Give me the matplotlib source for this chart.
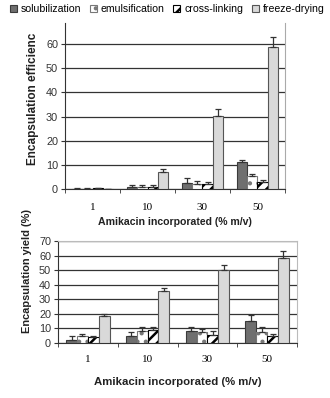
import matplotlib
matplotlib.use("Agg")
import matplotlib.pyplot as plt
import numpy as np
from matplotlib.patches import Patch

plt.rcParams['font.family'] = ['Liberation Sans', 'DejaVu Sans']
plt.rcParams['hatch.linewidth'] = 1.8

categories = ["1", "10", "30", "50"]
series = ["solubilization", "emulsification", "cross-linking", "freeze-drying"]

# Encapsulation efficiency (%)
eff = {
    "solubilization": [0.2, 0.8, 2.5, 11.2],
    "emulsification": [0.2, 1.0, 2.1, 5.5],
    "cross-linking":  [0.4, 0.9, 2.0, 3.0],
    "freeze-drying":  [0.1, 7.0, 30.1, 58.8],
}
eff_err = {
    "solubilization": [0.1, 1.0, 1.9, 0.8],
    "emulsification": [0.1, 0.8, 1.1, 0.8],
    "cross-linking":  [0.1, 0.7, 0.8, 0.9],
    "freeze-drying":  [0.1, 1.3, 3.0, 4.1],
}
# Encapsulation yield (%)
yld = {
    "solubilization": [2.3, 4.8, 8.4, 15.0],
    "emulsification": [4.5, 8.4, 7.5, 7.3],
    "cross-linking":  [3.8, 8.6, 5.5, 4.5],
    "freeze-drying":  [18.4, 35.9, 49.8, 58.6],
}
yld_err = {
    "solubilization": [2.2, 2.7, 2.3, 3.9],
    "emulsification": [1.4, 2.5, 2.3, 3.4],
    "cross-linking":  [0.7, 2.3, 2.7, 1.4],
    "freeze-drying":  [1.8, 1.6, 3.4, 4.6],
}

styles = {
    "solubilization": dict(facecolor="#6f6f6f", edgecolor="#3a3a3a", hatch=None),
    "emulsification": dict(facecolor="white", edgecolor="#777777", hatch=".."),
    "cross-linking":  dict(facecolor="white", edgecolor="black", hatch="///"),
    "freeze-drying":  dict(facecolor="#d9d9d9", edgecolor="#555555", hatch=None),
}

fig = plt.figure(figsize=(3.30, 3.98), dpi=100)

W = 0.182
x = np.arange(len(categories))
offs = (np.arange(4) - 1.5) * W


def draw(ax, data, err, ymax, yticks):
    for i, s in enumerate(series):
        st = styles[s]
        ax.bar(x + offs[i], data[s], W, facecolor=st["facecolor"],
               edgecolor=st["edgecolor"], hatch=st["hatch"], linewidth=0.8, zorder=3)
        ax.errorbar(x + offs[i], data[s], yerr=[np.zeros(4), err[s]], fmt='none',
                    ecolor="#333333", elinewidth=0.9, capsize=2.5, capthick=0.9, zorder=4)
    ax.set_xlim(-0.5, 3.5)
    ax.set_ylim(0, ymax)
    ax.set_yticks(yticks)
    ax.yaxis.grid(True, color="#333333", linewidth=0.9, zorder=0)
    ax.set_axisbelow(True)
    ax.set_xticks(x)
    ax.set_xticklabels(categories, fontfamily='Liberation Serif', fontsize=8)
    ax.set_xticks(np.arange(-0.5, 4.0, 1.0), minor=True)
    ax.tick_params(axis='x', which='major', length=0)
    ax.tick_params(axis='x', which='minor', length=3, direction='out', color='#333333')
    ax.tick_params(axis='y', length=3, direction='out', labelsize=7.8, color='#333333',
                   labelcolor='#333333', pad=2)
    ax.spines['left'].set_color('#333333')
    ax.spines['bottom'].set_color('#333333')


# Top panel
ax1 = fig.add_axes([65/330, 1-189/398, 220/330, 166/398])
draw(ax1, eff, eff_err, 68.7, [0, 10, 20, 30, 40, 50, 60])
ax1.spines['top'].set_visible(False)
ax1.spines['right'].set_color('#aaaaaa')
ax1.tick_params(axis='x', which='major', pad=10)

# Bottom panel
ax2 = fig.add_axes([58/330, 1-343/398, 239/330, 102/398])
draw(ax2, yld, yld_err, 70, [0, 10, 20, 30, 40, 50, 60, 70])
ax2.spines['top'].set_color('#bbbbbb')
ax2.spines['right'].set_color('#bbbbbb')
ax2.tick_params(axis='x', which='major', pad=9)

fig.text(175/330, 1-222/398, "Amikacin incorporated (% m/v)", ha='center', va='center',
         fontweight='bold', fontsize=7.6, color='#222222')
fig.text(178/330, 1-382/398, "Amikacin incorporated (% m/v)", ha='center', va='center',
         fontweight='bold', fontsize=8.2, color='#222222')
fig.text(33/330, 1-99/398, "Encapsulation efficienc", rotation=90, ha='center', va='center',
         fontweight='bold', fontsize=8.5, color='#222222')
fig.text(27/330, 1-271/398, "Encapsulation yield (%)", rotation=90, ha='center', va='center',
         fontweight='bold', fontsize=7.9, color='#222222')

handles = [Patch(facecolor=styles[s]["facecolor"], edgecolor=styles[s]["edgecolor"],
                 hatch=styles[s]["hatch"], linewidth=0.8) for s in series]
fig.legend(handles, series, loc='center', bbox_to_anchor=(167/330, 1-9/398), ncol=4,
           frameon=False, fontsize=7.6, handlelength=0.7, handleheight=0.7,
           handletextpad=0.35, columnspacing=0.8, borderpad=0)

fig.savefig("out.png", dpi=100)
